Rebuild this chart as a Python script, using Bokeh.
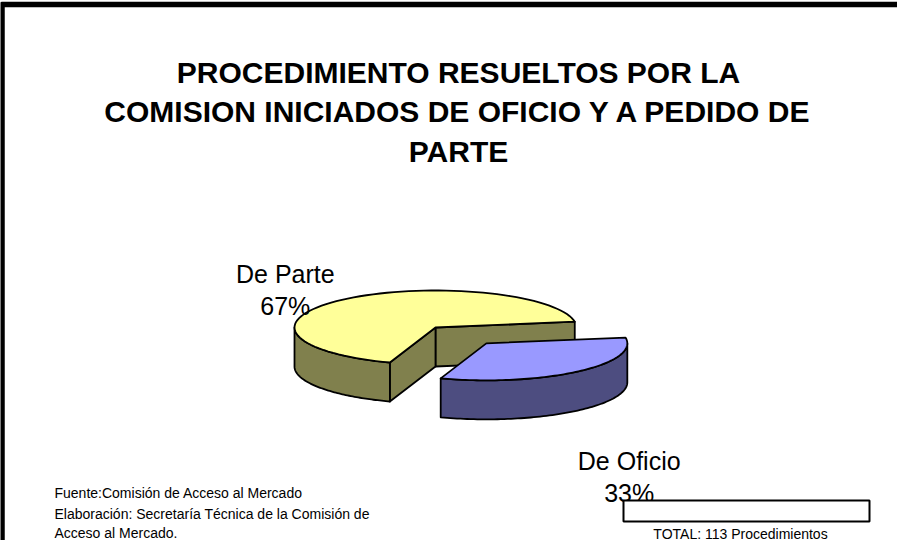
import numpy as np
from bokeh.plotting import figure
from bokeh.models import Range1d, ColumnDataSource
from bokeh.embed import file_html
from bokeh.resources import INLINE
from bokeh.core.properties import value

# ---------------- data ----------------
title_lines = ["PROCEDIMIENTO RESUELTOS POR LA",
               "COMISION INICIADOS DE OFICIO Y A PEDIDO DE",
               "PARTE"]
categories = ["De Oficio", "De Parte"]
counts = [37, 76]
top_colors = ["#9999FF", "#FFFF99"]
side_colors = ["#4D4D80", "#80804D"]
explode = [0.56, 0.0]
source_lines = ["Fuente:Comisión de Acceso al Mercado",
                "Elaboración: Secretaría Técnica de la Comisión de",
                "Acceso al Mercado."]
total_unit = "Procedimientos"

# ---------------- layout ----------------
W, H = 897, 540
FONT = value("Liberation Sans")
p = figure(width=W, height=H, x_range=Range1d(8, 8 + W), y_range=Range1d(8 + H, 8),
           output_backend="svg", toolbar_location=None, min_border=0,
           x_axis_type=None, y_axis_type=None)
p.grid.visible = False
p.outline_line_color = None
p.background_fill_color = "white"
p.border_fill_color = "white"

# frame border (top + left only visible)
p.line(x=[9.5, 9.5, 960], y=[600, 12, 12], line_width=5.5, line_color="black",
       line_join="round")

# ---------------- 3D pie ----------------
cx, cy = 443.0, 335.0
a, b = 141.0, 37.0
depth = 39.0
start_deg = 9.0

total = sum(counts)
fracs = np.array(counts, dtype=float) / total
cum = np.concatenate([[0.0], np.cumsum(fracs)])
slices = []
for i in range(len(counts)):
    hi = start_deg - cum[i] * 360.0
    lo = start_deg - cum[i + 1] * 360.0
    mid = np.radians((lo + hi) / 2)
    ox = explode[i] * a * np.cos(mid)
    oy = -explode[i] * b * np.sin(mid)
    slices.append(dict(i=i, lo=lo, hi=hi, ox=ox, oy=oy, mid=mid))


def arc(t0, t1, ox, oy, dz=0.0, n=80):
    t = np.radians(np.linspace(t0, t1, n))
    return list(cx + ox + a * np.cos(t)), list(cy + oy - b * np.sin(t) + dz)


def front_range(lo, hi):
    out = []
    for k in range(-2, 3):
        f0, f1 = 180 + 360 * k, 360 + 360 * k
        s, e = max(lo, f0), min(hi, f1)
        if e > s:
            out.append((s, e))
    return out


xs_list, ys_list, cols = [], [], []


def add(xs, ys, c):
    xs_list.append(xs)
    ys_list.append(ys)
    cols.append(c)


order = sorted(slices, key=lambda s: s["oy"])
for s in order:
    i, lo, hi, ox, oy = s["i"], s["lo"], s["hi"], s["ox"], s["oy"]
    ctx, cty = cx + ox, cy + oy
    for ang, normal in ((lo, lo - 90), (hi, hi + 90)):
        if np.sin(np.radians(normal)) < 0:
            ex = ctx + a * np.cos(np.radians(ang))
            ey = cty - b * np.sin(np.radians(ang))
            add([ctx, ex, ex, ctx], [cty, ey, ey + depth, cty + depth], side_colors[i])
    for (s0, e0) in front_range(lo, hi):
        tx, ty = arc(s0, e0, ox, oy)
        bx, by = arc(e0, s0, ox, oy, depth)
        add(tx + bx, ty + by, side_colors[i])
    tx, ty = arc(lo, hi, ox, oy)
    add([ctx] + tx, [cty] + ty, top_colors[i])

p.patches(xs=xs_list, ys=ys_list, fill_color=cols, line_color="black",
          line_width=1.8, line_join="round")

# ---------------- texts ----------------
title_src = ColumnDataSource(dict(x=[466, 466, 466], y=[80, 119, 159], t=title_lines))
p.text(x="x", y="y", text="t", source=title_src, text_font=FONT,
       text_font_size=value("30px"), text_font_style="bold",
       text_align="center", text_baseline="alphabetic", text_color="black")

pct = [f"{round(100 * c / total)}%" for c in counts]
lab_x = [636.7, 292.8]
lab_y = [468, 281.5]
lab_src = ColumnDataSource(dict(x=lab_x + lab_x,
                                y=lab_y + [y + 32 for y in lab_y],
                                t=categories + pct))
p.text(x="x", y="y", text="t", source=lab_src, text_font=FONT,
       text_font_size=value("25px"), text_align="center",
       text_baseline="alphabetic", text_color="black")

src_src = ColumnDataSource(dict(x=[62, 62, 62], y=[500, 521, 540], t=source_lines))
p.text(x="x", y="y", text="t", source=src_src, text_font=FONT,
       text_font_size=value("14px"), text_align="left",
       text_baseline="alphabetic", text_color="black")

p.quad(left=[631], right=[877], top=[508], bottom=[529], fill_color="white",
       line_color="black", line_width=2)
p.text(x=[748], y=[541], text=[f"TOTAL: {total} {total_unit}"], text_font=FONT,
       text_font_size=value("14px"), text_align="center",
       text_baseline="alphabetic", text_color="black")

open("out.html", "w").write(file_html(p, INLINE))
